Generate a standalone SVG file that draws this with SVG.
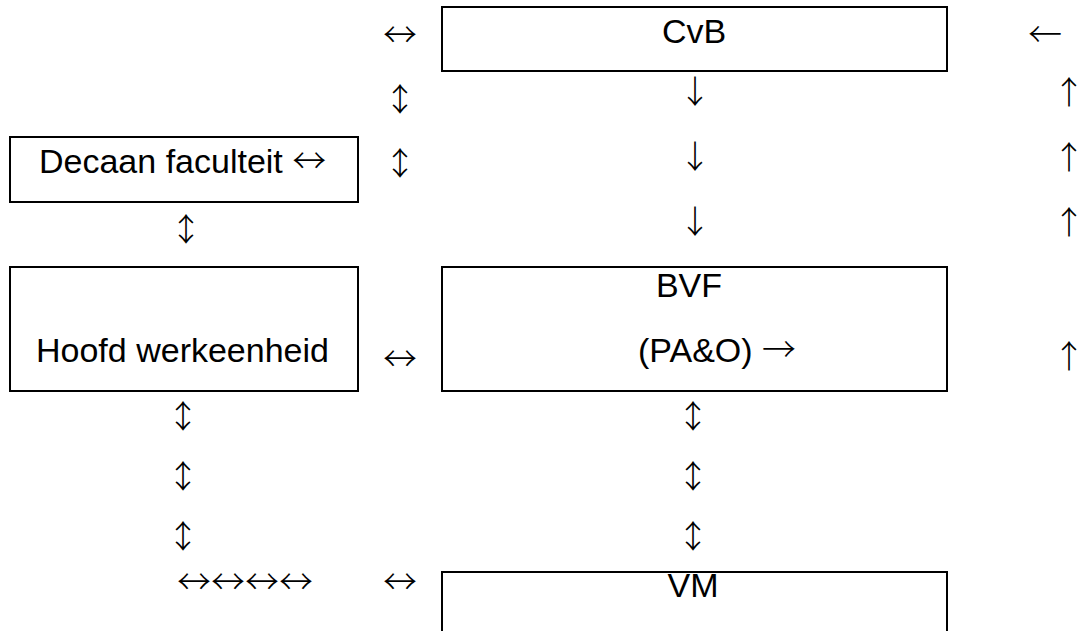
<svg xmlns="http://www.w3.org/2000/svg" width="1079" height="631" viewBox="0 0 1079 631">
<style>
.box{fill:#fff;stroke:#000;stroke-width:2}
.t{font-family:"Liberation Sans",Arial,sans-serif;font-size:34px;fill:#000}
.a{font-family:"Noto Sans CJK JP","Noto Sans CJK SC",sans-serif;font-weight:300;font-size:34px;fill:#000}
.v{font-size:32px}
.c{text-anchor:middle}
</style>
<rect width="1079" height="631" fill="#fff"/>
<g id="cvb">
<rect class="box" x="442" y="7" width="505" height="64"/>
<text class="t c" x="694" y="43">CvB</text>
</g>
<g id="decaan">
<rect class="box" x="10" y="137" width="348" height="65"/>
<text class="t" x="39" y="173">Decaan faculteit <tspan class="a">↔</tspan></text>
</g>
<g id="hoofd">
<rect class="box" x="10" y="267" width="348" height="124"/>
<text class="t" x="36" y="362">Hoofd werkeenheid</text>
</g>
<g id="bvf">
<rect class="box" x="442" y="267" width="505" height="124"/>
<text class="t c" x="689" y="297">BVF</text>
<text class="t" x="638" y="362">(PA&amp;O) <tspan class="a">→</tspan></text>
</g>
<g id="vm">
<rect class="box" x="442" y="572" width="505" height="80"/>
<text class="t c" x="693" y="597">VM</text>
</g>
<g id="connectors" class="a c">
<text x="400" y="47">↔</text>
<text x="1045" y="47">←</text>
<text class="v" x="400" y="111">↕</text>
<text class="v" x="400" y="175">↕</text>
<text class="v" x="186" y="241">↕</text>
<text class="v" x="695" y="103">↓</text>
<text class="v" x="695" y="168">↓</text>
<text class="v" x="695" y="233">↓</text>
<g class="v" style="text-anchor:start;letter-spacing:-10px">
<text x="1053" y="104">↑</text>
<text x="1053" y="169">↑</text>
<text x="1053" y="234">↑</text>
<text x="1053" y="368">↑</text>
</g>
<text x="400" y="371">↔</text>
<text class="v" x="183" y="428">↕</text>
<text class="v" x="183" y="488">↕</text>
<text class="v" x="183" y="548">↕</text>
<text class="v" x="693" y="428">↕</text>
<text class="v" x="693" y="488">↕</text>
<text class="v" x="693" y="548">↕</text>
<text x="245" y="594">↔↔↔↔</text>
<text x="400" y="594">↔</text>
</g>
</svg>
